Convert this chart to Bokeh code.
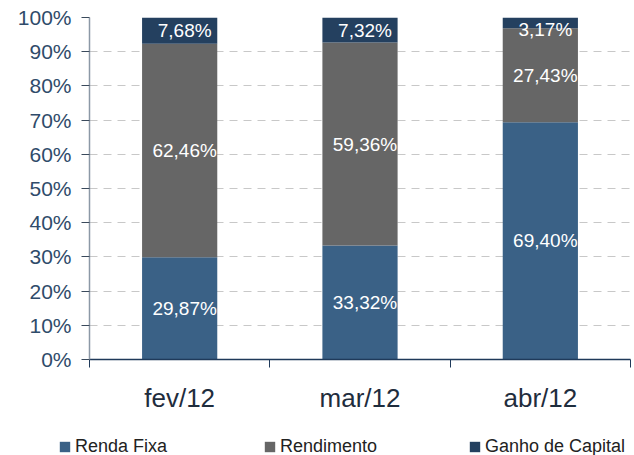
from bokeh.plotting import figure
from bokeh.layouts import column, row
from bokeh.models import ColumnDataSource, Range1d, FixedTicker, Legend, LegendItem
from bokeh.embed import file_html
from bokeh.resources import INLINE
from bokeh.core.properties import value

categories = ["fev/12", "mar/12", "abr/12"]
series = ["Renda Fixa", "Rendimento", "Ganho de Capital"]
renda_fixa = [29.87, 33.32, 69.40]
rendimento = [62.46, 59.36, 27.43]
ganho_capital = [7.68, 7.32, 3.17]
colors = ["#3A6186", "#666666", "#24405F"]
y_ticks = [0, 10, 20, 30, 40, 50, 60, 70, 80, 90, 100]

FONT = "Liberation Sans"

xs = [i + 0.5 for i in range(len(categories))]
data = {"x": xs, series[0]: renda_fixa, series[1]: rendimento, series[2]: ganho_capital}
src = ColumnDataSource(data)

p = figure(width=634, height=415, x_range=Range1d(0, len(categories)), y_range=Range1d(0, 100),
           output_backend="svg", toolbar_location=None,
           min_border_left=89, min_border_right=4, min_border_top=17, min_border_bottom=55)
p.outline_line_color = None

renderers = p.vbar_stack(series, x="x", width=0.417, fill_color=colors, line_color=None, source=src)

# value labels (kept a little below the top of the frame)
cum = [0.0] * len(categories)
for vals in (renda_fixa, rendimento, ganho_capital):
    mids = [min(c + v / 2, 96.5) for c, v in zip(cum, vals)]
    cum = [c + v for c, v in zip(cum, vals)]
    texts = [("%.2f" % v).replace(".", ",") + "%" for v in vals]
    p.text(x=xs, y=mids, text=texts, text_color="white", text_font=value(FONT),
           text_font_size="19px", text_align="center", text_baseline="middle", x_offset=5)

# y axis
p.yaxis.ticker = FixedTicker(ticks=y_ticks, minor_ticks=[])
p.yaxis.major_label_overrides = {t: f"{t}%" for t in y_ticks}
p.yaxis.major_label_text_font = FONT
p.yaxis.major_label_text_font_size = "21px"
p.yaxis.major_label_text_color = "#2F4B6A"
p.yaxis.major_label_standoff = 10
p.yaxis.major_tick_out = 8
p.yaxis.major_tick_in = 0
p.yaxis.major_tick_line_color = "#3A4A5C"
p.yaxis.axis_line_color = "#8C98A6"
p.yaxis.axis_line_width = 1.5

# x axis: labels at centres, ticks at category boundaries
p.xaxis.ticker = FixedTicker(ticks=xs, minor_ticks=list(range(len(categories) + 1)))
p.xaxis.major_label_overrides = {x: c for x, c in zip(xs, categories)}
p.xaxis.major_label_text_font = FONT
p.xaxis.major_label_text_font_size = "26px"
p.xaxis.major_label_text_color = "#1F2D3D"
p.xaxis.major_label_standoff = 15
p.xaxis.major_tick_out = 0
p.xaxis.major_tick_in = 0
p.xaxis.minor_tick_out = 8
p.xaxis.minor_tick_in = 0
p.xaxis.minor_tick_line_color = "#1F3A5A"
p.xaxis.axis_line_color = "#1F3A5A"
p.xaxis.axis_line_width = 1.5

p.xgrid.grid_line_color = None
p.ygrid.grid_line_color = "#C8C8C8"
p.ygrid.grid_line_dash = "8 6"
p.ygrid.ticker = FixedTicker(ticks=y_ticks)

# legend strip: same stacked bars, kept out of view, only their legend shows
lp = figure(width=634, height=40, x_range=Range1d(0, len(categories)), y_range=Range1d(1000, 1001),
            output_backend="svg", toolbar_location=None,
            min_border_left=0, min_border_right=0, min_border_top=0, min_border_bottom=0,
            x_axis_location=None, y_axis_location=None)
lp.outline_line_color = None
lp.xgrid.visible = False
lp.ygrid.visible = False
swatches = lp.vbar_stack(series, x="x", width=0.417, fill_color=colors, line_color=None, source=src)
legend = Legend(items=[LegendItem(label=s, renderers=[r]) for s, r in zip(series, swatches)],
                orientation="horizontal", location=(58, -2),
                padding=0, margin=0, spacing=0, border_line_color=None,
                background_fill_alpha=0, glyph_width=13, glyph_height=13,
                label_standoff=4, label_width=188, label_height=16,
                label_text_font=FONT, label_text_font_size="18px", label_text_color="#222222")
lp.add_layout(legend, "center")

layout = column(p, row(lp, spacing=0), spacing=0)
open("out.html", "w").write(file_html(layout, INLINE))
